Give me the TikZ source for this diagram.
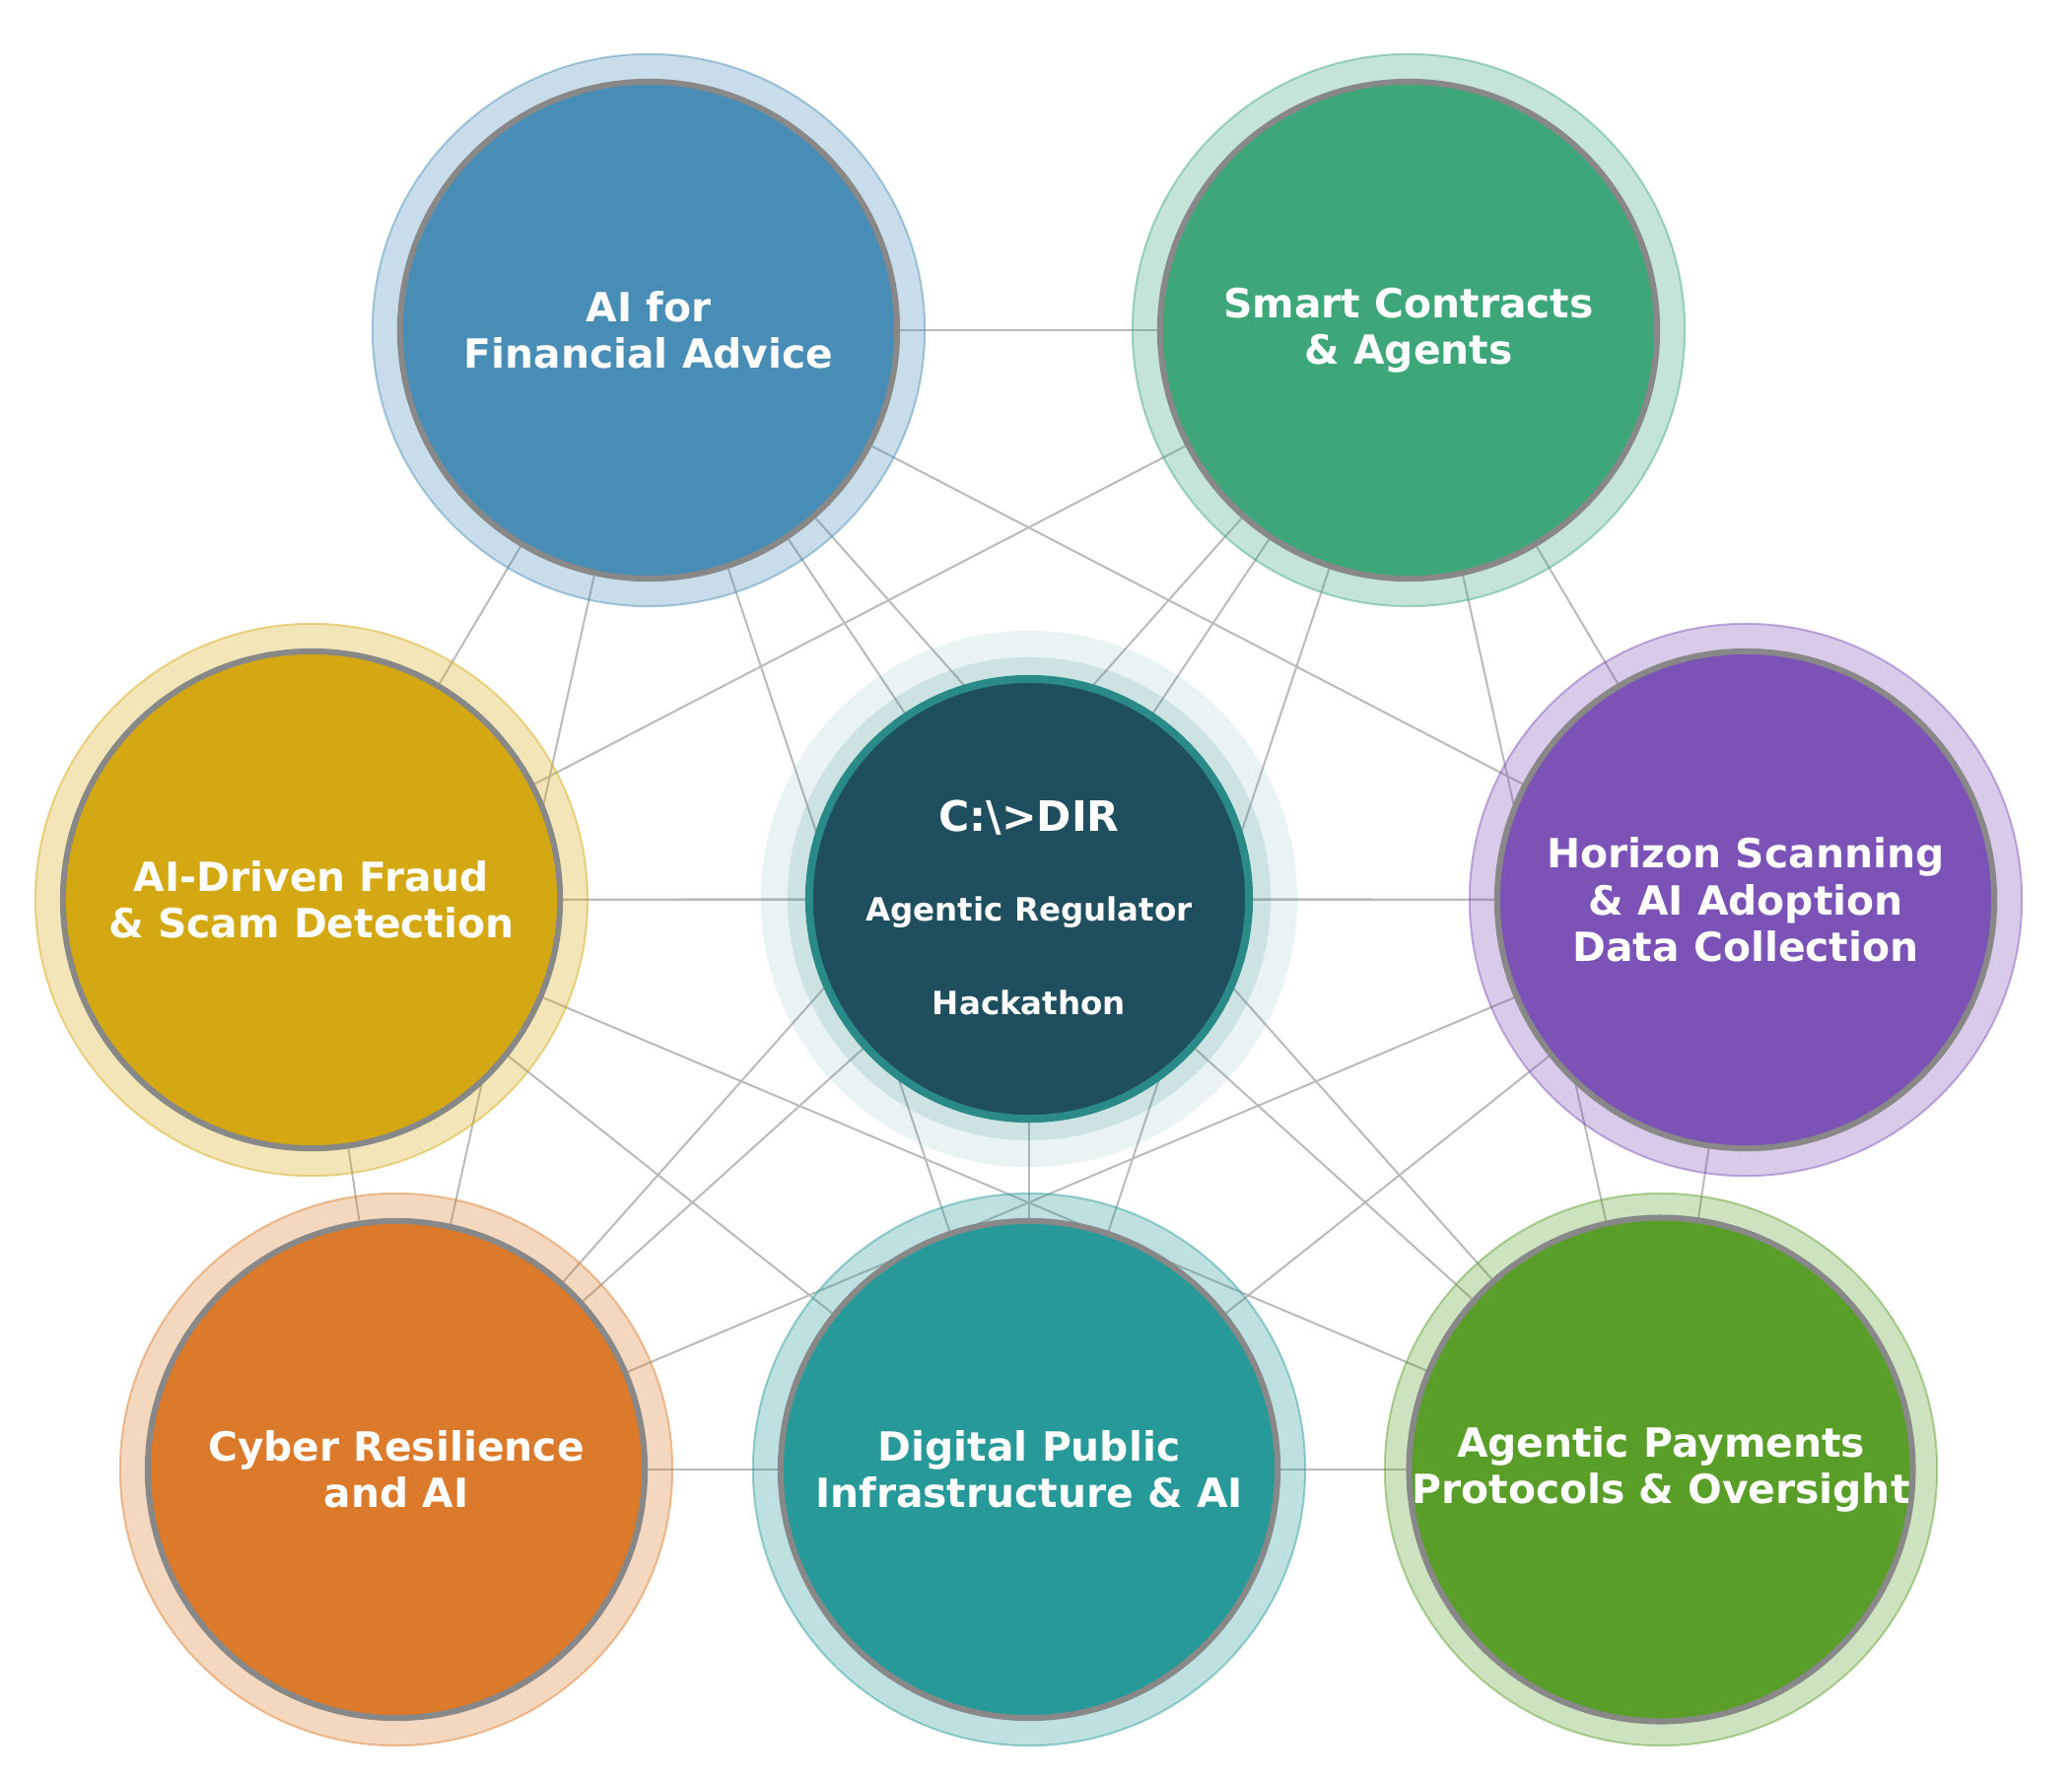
\documentclass[tikz,border=0pt]{standalone}
\usepackage{fontspec}
\setmainfont{DejaVu Sans}
\usetikzlibrary{backgrounds}
\pgfdeclarelayer{halo}
\pgfsetlayers{background,halo,main}
\definecolor{finblue}{HTML}{488DB5}
\definecolor{smartgreen}{HTML}{3DA77A}
\definecolor{fraudgold}{HTML}{D4A812}
\definecolor{horizonpurple}{HTML}{7B52B6}
\definecolor{cyberorange}{HTML}{DA7A2A}
\definecolor{dpiteal}{HTML}{289999}
\definecolor{paygreen}{HTML}{5A9E2A}
\definecolor{hubfill}{HTML}{1F4E5F}
\definecolor{hubring}{HTML}{2A8A87}
\definecolor{ringgray}{HTML}{888888}
\tikzset{
    topicnode/.style={circle,draw=ringgray,line width=0.06cm,fill=#1,minimum size=5.04cm,
        inner sep=0pt,text=white,align=center,font=\fontsize{11.6}{13.5}\selectfont\bfseries},
    hubnode/.style={circle,draw=hubring,line width=0.08cm,fill=hubfill,minimum size=4.46cm,inner sep=0pt},
    hubtext/.style={text=white,anchor=base,inner sep=0pt,font=\fontsize{#1}{#1}\selectfont\bfseries},
    linkedge/.style={line width=0.02cm,draw=black!27},
    haloring/.style={fill=#1,fill opacity=0.3,draw=#1,draw opacity=0.45,line width=0.02cm}
}

\begin{document}
\begin{tikzpicture}[x=0.01cm,y=-0.01cm]
  \useasboundingbox (0,0) rectangle (2102,1802);
  % topics
  \node[topicnode=finblue] (fin) at (658,335) {AI for\\Financial Advice};
  \node[topicnode=smartgreen] (smart) at (1429,335) {Smart Contracts\\\& Agents};
  \node[topicnode=fraudgold] (fraud) at (316,913) {AI-Driven Fraud\\\& Scam Detection};
  \node[topicnode=horizonpurple] (horizon) at (1771,913) {Horizon Scanning\\\& AI Adoption\\Data Collection};
  \node[topicnode=cyberorange] (cyber) at (402,1491) {Cyber Resilience\\and AI};
  \node[topicnode=dpiteal] (dpi) at (1044,1491) {Digital Public\\Infrastructure \& AI};
  \node[topicnode=paygreen] (pay) at (1685,1491) {Agentic Payments\\Protocols \& Oversight};
  % hub
  \node[hubnode] (hub) at (1044,912) {};
  \node[hubtext=12.1] (hubtitle) at ([yshift=0.68cm]hub.center) {C:\textbackslash>DIR};
  \node[hubtext=9.25] (hubname) at ([yshift=-0.22cm]hub.center) {Agentic Regulator};
  \node[hubtext=9.25] (hubevent) at ([yshift=-1.17cm]hub.center) {Hackathon};
  % halos
  \begin{pgfonlayer}{halo}
    \foreach \n/\c in {fin/finblue,smart/smartgreen,fraud/fraudgold,horizon/horizonpurple,
        cyber/cyberorange,dpi/dpiteal,pay/paygreen}
      {\draw[haloring=\c] (\n.center) circle (2.8cm);}
    \fill[hubring,opacity=0.1] (hub.center) circle (2.72cm);
    \fill[hubring,opacity=0.15] (hub.center) circle (2.45cm);
  \end{pgfonlayer}
  % every pair linked
  \begin{pgfonlayer}{background}
    \foreach \a [count=\i] in {fin,smart,fraud,hub,horizon,cyber,dpi,pay}{
      \foreach \b [count=\j] in {fin,smart,fraud,hub,horizon,cyber,dpi,pay}{
        \ifnum\i<\j \draw[linkedge] (\a) -- (\b); \fi
      }
    }
  \end{pgfonlayer}
\end{tikzpicture}
\end{document}
